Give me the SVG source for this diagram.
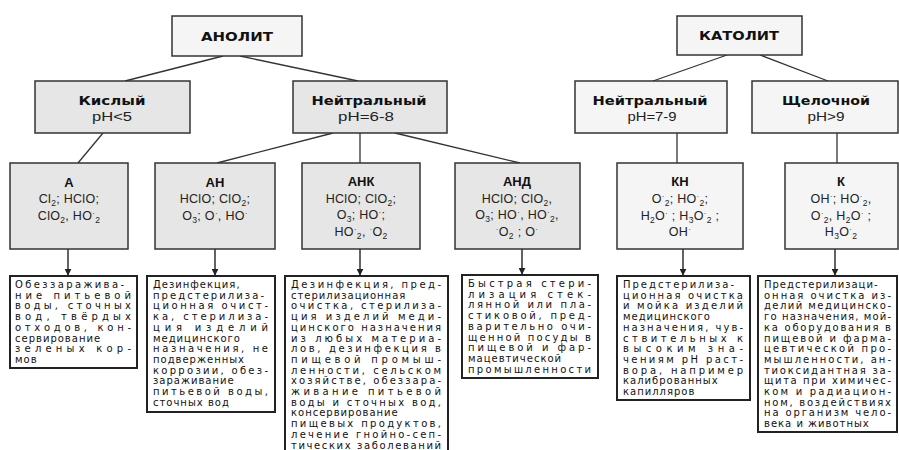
<svg xmlns="http://www.w3.org/2000/svg" width="899" height="450" viewBox="0 0 899 450">
<defs>
<style>
.bg{fill:#ffffff}
.top{fill:#f5f5f5;stroke:#333;stroke-width:1.5}
.grey{fill:#e6e6e6;stroke:#333;stroke-width:1.5}
.note{fill:#ffffff;stroke:#222;stroke-width:2}
.hd{font-family:"DejaVu Sans","Liberation Sans",sans-serif;font-weight:bold;font-size:12px;fill:#111;text-anchor:middle}
.ph{font-family:"Liberation Sans",Arial,sans-serif;font-size:12px;fill:#222;text-anchor:middle}
.ti{font-family:"Liberation Sans",Arial,sans-serif;font-weight:bold;font-size:13px;fill:#111;text-anchor:middle}
.fm{font-family:"Liberation Sans",Arial,sans-serif;font-size:12.5px;fill:#222;text-anchor:middle;letter-spacing:0.3px}
.sb{font-size:8.5px;baseline-shift:-3px}
.sp{font-size:8px;baseline-shift:4px}
.tx{font-family:"DejaVu Sans","Liberation Sans",sans-serif;font-size:10px;fill:#111;letter-spacing:1px}
.ln{stroke:#333;stroke-width:1.3;fill:none}
.ar{stroke:#222;stroke-width:1.4;fill:none}
</style>
<marker id="ah" viewBox="0 0 10 10" refX="9" refY="5" markerWidth="7" markerHeight="7" orient="auto" markerUnits="userSpaceOnUse">
<path d="M0,0 L10,5 L0,10 z" fill="#222"/>
</marker>
</defs>
<rect class="bg" x="0" y="0" width="899" height="450"/>

<g id="connectors">
<line class="ln" x1="223" y1="56" x2="125" y2="81"/>
<line class="ln" x1="240" y1="56" x2="358" y2="81"/>
<line class="ln" x1="103" y1="133" x2="78" y2="163"/>
<line class="ln" x1="333" y1="133" x2="217" y2="163"/>
<line class="ln" x1="360" y1="133" x2="360" y2="163"/>
<line class="ln" x1="395" y1="133" x2="520" y2="163"/>
<line class="ln" x1="727" y1="55" x2="653" y2="81"/>
<line class="ln" x1="760" y1="55" x2="828" y2="81"/>
<line class="ln" x1="677" y1="133" x2="677" y2="163"/>
<line class="ln" x1="837" y1="133" x2="837" y2="163"/>
<line class="ar" x1="68" y1="249" x2="68" y2="275" marker-end="url(#ah)"/>
<line class="ar" x1="215" y1="249" x2="215" y2="275" marker-end="url(#ah)"/>
<line class="ar" x1="360" y1="249" x2="360" y2="275" marker-end="url(#ah)"/>
<line class="ar" x1="522" y1="249" x2="522" y2="274" marker-end="url(#ah)"/>
<line class="ar" x1="683" y1="249" x2="683" y2="275" marker-end="url(#ah)"/>
<line class="ar" x1="835" y1="249" x2="835" y2="275" marker-end="url(#ah)"/>
</g>

<g id="anolit">
<rect class="top" x="172" y="16" width="130" height="40"/>
<text class="hd" x="237" y="41" textLength="72" lengthAdjust="spacingAndGlyphs">АНОЛИТ</text>
</g>
<g id="katolit">
<rect class="top" x="677" y="16" width="125" height="39"/>
<text class="hd" x="739" y="40" textLength="80" lengthAdjust="spacingAndGlyphs">КАТОЛИТ</text>
</g>

<g id="kisly">
<rect class="grey" x="35" y="81" width="155" height="52"/>
<text class="hd" x="112" y="105" textLength="67" lengthAdjust="spacingAndGlyphs">Кислый</text>
<text class="ph" x="112" y="121" textLength="40" lengthAdjust="spacingAndGlyphs">pH&lt;5</text>
</g>
<g id="neutral-a">
<rect class="grey" x="293" y="81" width="154" height="52"/>
<text class="hd" x="369" y="105" textLength="115" lengthAdjust="spacingAndGlyphs">Нейтральный</text>
<text class="ph" x="366" y="121" textLength="56" lengthAdjust="spacingAndGlyphs">pH=6-8</text>
</g>
<g id="neutral-k">
<rect class="top" x="575" y="81" width="152" height="52"/>
<text class="hd" x="650" y="105" textLength="115" lengthAdjust="spacingAndGlyphs">Нейтральный</text>
<text class="ph" x="652" y="121" textLength="49" lengthAdjust="spacingAndGlyphs">pH=7-9</text>
</g>
<g id="alkaline">
<rect class="top" x="752" y="81" width="146" height="52"/>
<text class="hd" x="826" y="105" textLength="88" lengthAdjust="spacingAndGlyphs">Щелочной</text>
<text class="ph" x="826" y="121" textLength="37" lengthAdjust="spacingAndGlyphs">pH&gt;9</text>
</g>

<g id="a">
<rect class="grey" x="10" y="163" width="118" height="86"/>
<text class="ti" x="69" y="187">А</text>
<text class="fm" x="69" y="203">Cl<tspan class="sb">2</tspan>; HClO;</text>
<text class="fm" x="69" y="220">ClO<tspan class="sb">2</tspan>, HO<tspan class="sp">·</tspan><tspan class="sb">2</tspan></text>
</g>
<g id="an">
<rect class="grey" x="155" y="163" width="120" height="86"/>
<text class="ti" x="215" y="187">АН</text>
<text class="fm" x="215" y="203">HClO; ClO<tspan class="sb">2</tspan>;</text>
<text class="fm" x="215" y="220">O<tspan class="sb">3</tspan>; O<tspan class="sp">·</tspan>, HO<tspan class="sp">·</tspan></text>
</g>
<g id="ank">
<rect class="grey" x="302" y="163" width="118" height="86"/>
<text class="ti" x="361" y="186">АНК</text>
<text class="fm" x="361" y="202.5">HClO; ClO<tspan class="sb">2</tspan>;</text>
<text class="fm" x="361" y="219">O<tspan class="sb">3</tspan>; HO<tspan class="sp">·</tspan>;</text>
<text class="fm" x="361" y="235.5">HO<tspan class="sp">·</tspan><tspan class="sb">2</tspan>, <tspan class="sp">·</tspan>O<tspan class="sb">2</tspan></text>
</g>
<g id="and">
<rect class="grey" x="455" y="163" width="125" height="86"/>
<text class="ti" x="517" y="186">АНД</text>
<text class="fm" x="517" y="202.5">HClO; ClO<tspan class="sb">2</tspan>,</text>
<text class="fm" x="517" y="219">O<tspan class="sb">3</tspan>; HO<tspan class="sp">·</tspan>, HO<tspan class="sp">·</tspan><tspan class="sb">2</tspan>,</text>
<text class="fm" x="517" y="235.5"><tspan class="sp">·</tspan>O<tspan class="sb">2</tspan> ; O<tspan class="sp">·</tspan></text>
</g>
<g id="kn">
<rect class="top" x="617" y="163" width="126" height="86"/>
<text class="ti" x="680" y="186">КН</text>
<text class="fm" x="680" y="202.5">O<tspan class="sp">·</tspan><tspan class="sb">2</tspan>; HO<tspan class="sp">·</tspan><tspan class="sb">2</tspan>;</text>
<text class="fm" x="680" y="219.5">H<tspan class="sb">2</tspan>O<tspan class="sp">·</tspan> ; H<tspan class="sb">3</tspan>O<tspan class="sp">·</tspan><tspan class="sb">2</tspan> ;</text>
<text class="fm" x="680" y="236">OH<tspan class="sp">·</tspan></text>
</g>
<g id="k">
<rect class="top" x="785" y="163" width="113" height="86"/>
<text class="ti" x="841" y="186">К</text>
<text class="fm" x="841" y="202.5">OH<tspan class="sp">·</tspan>; HO<tspan class="sp">·</tspan><tspan class="sb">2</tspan>,</text>
<text class="fm" x="841" y="219.5">O<tspan class="sp">·</tspan><tspan class="sb">2</tspan>, H<tspan class="sb">2</tspan>O<tspan class="sp">·</tspan> ;</text>
<text class="fm" x="841" y="236">H<tspan class="sb">3</tspan>O<tspan class="sp">·</tspan><tspan class="sb">2</tspan></text>
</g>

<g id="use-a">
<rect class="note" x="10" y="276" width="127" height="92"/>
<text class="tx" x="15" y="288" textLength="110" lengthAdjust="spacing">Обеззаражива-</text>
<text class="tx" x="15" y="298.7" textLength="117" lengthAdjust="spacing">ние питьевой</text>
<text class="tx" x="15" y="309.4" textLength="117" lengthAdjust="spacing">воды, сточных</text>
<text class="tx" x="15" y="320.1" textLength="117" lengthAdjust="spacing">вод, твёрдых</text>
<text class="tx" x="15" y="330.8" textLength="117" lengthAdjust="spacing">отходов, кон-</text>
<text class="tx" x="15" y="341.5">сервирование</text>
<text class="tx" x="15" y="352.2" textLength="117" lengthAdjust="spacing">зеленых кор-</text>
<text class="tx" x="15" y="362.9">мов</text>
</g>

<g id="use-an">
<rect class="note" x="147" y="276" width="128" height="136"/>
<text class="tx" x="153" y="288">Дезинфекция,</text>
<text class="tx" x="153" y="298.7" textLength="112" lengthAdjust="spacing">предстерилиза-</text>
<text class="tx" x="153" y="309.4" textLength="116" lengthAdjust="spacing">ционная очист-</text>
<text class="tx" x="153" y="320.1" textLength="116" lengthAdjust="spacing">ка, стерилиза-</text>
<text class="tx" x="153" y="330.8" textLength="116" lengthAdjust="spacing">ция изделий</text>
<text class="tx" x="153" y="341.5">медицинского</text>
<text class="tx" x="153" y="352.2" textLength="116" lengthAdjust="spacing">назначения, не</text>
<text class="tx" x="153" y="362.9">подверженных</text>
<text class="tx" x="153" y="373.6" textLength="116" lengthAdjust="spacing">коррозии, обез-</text>
<text class="tx" x="153" y="384.3">зараживание</text>
<text class="tx" x="153" y="395" textLength="116" lengthAdjust="spacing">питьевой воды,</text>
<text class="tx" x="153" y="405.7">сточных вод</text>
</g>

<g id="use-ank">
<rect class="note" x="285" y="276" width="163" height="190"/>
<text class="tx" x="291" y="288" textLength="151" lengthAdjust="spacing">Дезинфекция, пред-</text>
<text class="tx" x="291" y="298.7">стерилизационная</text>
<text class="tx" x="291" y="309.4" textLength="151" lengthAdjust="spacing">очистка, стерилиза-</text>
<text class="tx" x="291" y="320.1" textLength="151" lengthAdjust="spacing">ция изделий меди-</text>
<text class="tx" x="291" y="330.8" textLength="151" lengthAdjust="spacing">цинского назначения</text>
<text class="tx" x="291" y="341.5" textLength="151" lengthAdjust="spacing">из любых материа-</text>
<text class="tx" x="291" y="352.2" textLength="151" lengthAdjust="spacing">лов, дезинфекция в</text>
<text class="tx" x="291" y="362.9" textLength="151" lengthAdjust="spacing">пищевой промыш-</text>
<text class="tx" x="291" y="373.6" textLength="151" lengthAdjust="spacing">ленности, сельском</text>
<text class="tx" x="291" y="384.3" textLength="151" lengthAdjust="spacing">хозяйстве, обеззара-</text>
<text class="tx" x="291" y="395" textLength="151" lengthAdjust="spacing">живание питьевой</text>
<text class="tx" x="291" y="405.7" textLength="151" lengthAdjust="spacing">воды и сточных вод,</text>
<text class="tx" x="291" y="416.4">консервирование</text>
<text class="tx" x="291" y="427.1" textLength="151" lengthAdjust="spacing">пищевых продуктов,</text>
<text class="tx" x="291" y="437.8" textLength="151" lengthAdjust="spacing">лечение гнойно-сеп-</text>
<text class="tx" x="291" y="448.5" textLength="151" lengthAdjust="spacing">тических заболеваний</text>
</g>

<g id="use-and">
<rect class="note" x="462" y="275" width="136" height="103"/>
<text class="tx" x="468" y="287" textLength="124" lengthAdjust="spacing">Быстрая стери-</text>
<text class="tx" x="468" y="297.7" textLength="124" lengthAdjust="spacing">лизация стек-</text>
<text class="tx" x="468" y="308.4" textLength="124" lengthAdjust="spacing">лянной или пла-</text>
<text class="tx" x="468" y="319.1" textLength="124" lengthAdjust="spacing">стиковой, пред-</text>
<text class="tx" x="468" y="329.8" textLength="124" lengthAdjust="spacing">варительно очи-</text>
<text class="tx" x="468" y="340.5" textLength="124" lengthAdjust="spacing">щенной посуды в</text>
<text class="tx" x="468" y="351.2" textLength="124" lengthAdjust="spacing">пищевой и фар-</text>
<text class="tx" x="468" y="361.9">мацевтической</text>
<text class="tx" x="468" y="372.6" textLength="124" lengthAdjust="spacing">промышленности</text>
</g>

<g id="use-kn">
<rect class="note" x="617" y="276" width="133" height="124"/>
<text class="tx" x="623" y="288" textLength="112" lengthAdjust="spacing">Предстерилиза-</text>
<text class="tx" x="623" y="298.7" textLength="121" lengthAdjust="spacing">ционная очистка</text>
<text class="tx" x="623" y="309.4" textLength="121" lengthAdjust="spacing">и мойка изделий</text>
<text class="tx" x="623" y="320.1">медицинского</text>
<text class="tx" x="623" y="330.8" textLength="121" lengthAdjust="spacing">назначения, чув-</text>
<text class="tx" x="623" y="341.5" textLength="121" lengthAdjust="spacing">ствительных к</text>
<text class="tx" x="623" y="352.2" textLength="121" lengthAdjust="spacing">высоким зна-</text>
<text class="tx" x="623" y="362.9" textLength="121" lengthAdjust="spacing">чениям pH раст-</text>
<text class="tx" x="623" y="373.6" textLength="121" lengthAdjust="spacing">вора, например</text>
<text class="tx" x="623" y="384.3">калиброванных</text>
<text class="tx" x="623" y="395">капилляров</text>
</g>

<g id="use-k">
<rect class="note" x="758" y="276" width="139" height="156"/>
<text class="tx" x="764" y="288">Предстерилизаци-</text>
<text class="tx" x="764" y="298.7" textLength="128" lengthAdjust="spacing">онная очистка из-</text>
<text class="tx" x="764" y="309.4" textLength="128" lengthAdjust="spacing">делий медицинско-</text>
<text class="tx" x="764" y="320.1" textLength="128" lengthAdjust="spacing">го назначения, мой-</text>
<text class="tx" x="764" y="330.8" textLength="128" lengthAdjust="spacing">ка оборудования в</text>
<text class="tx" x="764" y="341.5" textLength="128" lengthAdjust="spacing">пищевой и фарма-</text>
<text class="tx" x="764" y="352.2" textLength="128" lengthAdjust="spacing">цевтической про-</text>
<text class="tx" x="764" y="362.9" textLength="128" lengthAdjust="spacing">мышленности, ан-</text>
<text class="tx" x="764" y="373.6" textLength="128" lengthAdjust="spacing">тиоксидантная за-</text>
<text class="tx" x="764" y="384.3" textLength="128" lengthAdjust="spacing">щита при химичес-</text>
<text class="tx" x="764" y="395" textLength="128" lengthAdjust="spacing">ком и радиацион-</text>
<text class="tx" x="764" y="405.7" textLength="128" lengthAdjust="spacing">ном, воздействиях</text>
<text class="tx" x="764" y="416.4" textLength="128" lengthAdjust="spacing">на организм чело-</text>
<text class="tx" x="764" y="427.1">века и животных</text>
</g>
</svg>
